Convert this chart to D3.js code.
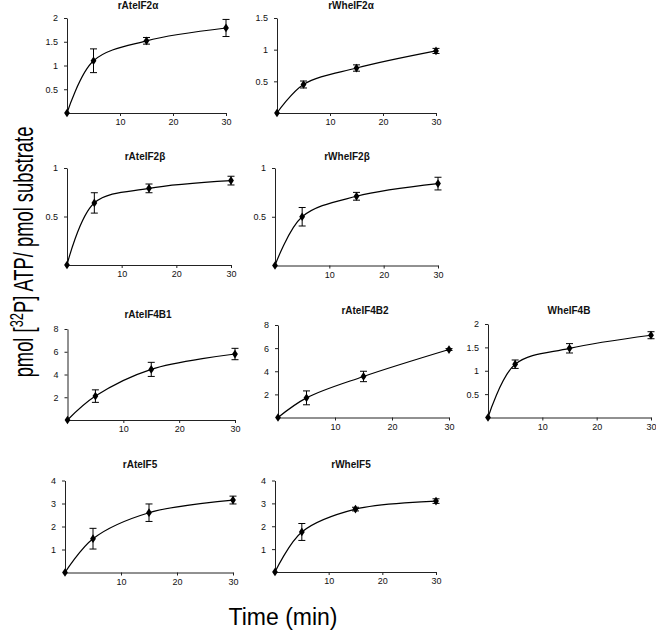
<!DOCTYPE html>
<html>
<head>
<meta charset="utf-8">
<script src="https://cdn.jsdelivr.net/npm/d3@7"></script>
<style>
  html, body { margin: 0; padding: 0; background: #fff; }
  svg { display: block; font-family: Arial, "Liberation Sans", sans-serif; }
</style>
</head>
<body>
<svg id="chart" width="656" height="635"></svg>
<script>
// ---- data ----
const times = [0, 5, 15, 30];
const titles = ["rAteIF2α", "rWheIF2α", "rAteIF2β", "rWheIF2β", "rAteIF4B1", "rAteIF4B2", "WheIF4B", "rAteIF5", "rWheIF5"];
const yMax = [2, 1.5, 1, 1, 8, 8, 2, 4, 4];
const yTicks = [
  [0.5, 1, 1.5, 2],
  [0.5, 1, 1.5],
  [0.5, 1],
  [0.5, 1],
  [2, 4, 6, 8],
  [2, 4, 6, 8],
  [0.5, 1, 1.5, 2],
  [1, 2, 3, 4],
  [1, 2, 3, 4]
];
const xTicks = [10, 20, 30];
const means = [
  [0, 1.10, 1.52, 1.79],
  [0, 0.45, 0.71, 0.98],
  [0, 0.64, 0.79, 0.87],
  [0, 0.50, 0.71, 0.84],
  [0, 2.10, 4.45, 5.80],
  [0, 1.70, 3.55, 5.88],
  [0, 1.14, 1.48, 1.76],
  [0, 1.47, 2.60, 3.15],
  [0, 1.75, 2.75, 3.10]
];
const errs = [
  [0, 0.25, 0.07, 0.18],
  [0, 0.055, 0.05, 0.04],
  [0, 0.105, 0.045, 0.045],
  [0, 0.095, 0.04, 0.065],
  [0, 0.55, 0.62, 0.50],
  [0, 0.60, 0.45, 0.08],
  [0, 0.09, 0.10, 0.075],
  [0, 0.45, 0.38, 0.17],
  [0, 0.37, 0.08, 0.10]
];
const yLabelPre = "pmol [";
const yLabelSup = "32";
const yLabelPost = "P] ATP/ pmol  substrate";
const xLabel = "Time (min)";

// ---- layout (panel geometry) ----
const layout = [
  {x0: 67,   x1: 226, y0: 113,   yTop: 18,    tx: 138, ty: 9},
  {x0: 277,  x1: 436, y0: 113,   yTop: 18,    tx: 351, ty: 9},
  {x0: 67,   x1: 231, y0: 265,   yTop: 168,   tx: 145, ty: 160},
  {x0: 275,  x1: 438, y0: 265.5, yTop: 168,   tx: 347, ty: 160},
  {x0: 67.5, x1: 235, y0: 420,   yTop: 329,   tx: 148, ty: 318},
  {x0: 278,  x1: 449, y0: 417.5, yTop: 325,   tx: 365, ty: 314},
  {x0: 488,  x1: 651, y0: 417.5, yTop: 324,   tx: 569, ty: 314},
  {x0: 65,   x1: 233, y0: 572.5, yTop: 480.5, tx: 140, ty: 468},
  {x0: 275,  x1: 436, y0: 572,   yTop: 480.5, tx: 351, ty: 468}
];

const svg = d3.select("#chart");

titles.forEach((title, i) => {
  const L = layout[i];
  const x = d3.scaleLinear().domain([0, 30]).range([L.x0, L.x1]);
  const y = d3.scaleLinear().domain([0, yMax[i]]).range([L.y0, L.yTop]);
  const g = svg.append("g");

  // axes
  const xAxis = d3.axisBottom(x).tickValues(xTicks).tickSize(3).tickSizeOuter(0).tickPadding(3)
    .tickFormat(d3.format("d"));
  const yAxis = d3.axisLeft(y).tickValues(yTicks[i]).tickSize(3).tickSizeOuter(0).tickPadding(6)
    .tickFormat(d => String(d));
  const gx = g.append("g").attr("transform", `translate(0,${L.y0})`).call(xAxis);
  const gy = g.append("g").attr("transform", `translate(${L.x0},0)`).call(yAxis);
  [gx, gy].forEach(a => {
    a.select(".domain").attr("stroke", "#222").attr("stroke-width", 1);
    a.selectAll(".tick line").attr("stroke", "#222");
    a.selectAll(".tick text").attr("font-size", 9).attr("fill", "#111")
      .attr("font-family", "Arial, 'Liberation Sans', sans-serif");
  });

  // title
  g.append("text").attr("x", L.tx).attr("y", L.ty).attr("text-anchor", "middle")
    .attr("font-size", 10).attr("font-weight", "bold").attr("fill", "#111")
    .text(title);

  const pts = times.map((t, k) => ({t, m: means[i][k], e: errs[i][k]}));

  // smooth line
  const line = d3.line().x(d => x(d.t)).y(d => y(d.m)).curve(d3.curveCatmullRom.alpha(0.5));
  g.append("path").datum(pts).attr("d", line).attr("fill", "none")
    .attr("stroke", "#000").attr("stroke-width", 1.2);

  // error bars
  const eb = g.selectAll(".eb").data(pts.filter(d => d.e > 0)).enter().append("g");
  eb.append("line").attr("x1", d => x(d.t)).attr("x2", d => x(d.t))
    .attr("y1", d => y(d.m - d.e)).attr("y2", d => y(d.m + d.e))
    .attr("stroke", "#000").attr("stroke-width", 1);
  eb.append("line").attr("x1", d => x(d.t) - 3.5).attr("x2", d => x(d.t) + 3.5)
    .attr("y1", d => y(d.m + d.e)).attr("y2", d => y(d.m + d.e))
    .attr("stroke", "#000").attr("stroke-width", 1);
  eb.append("line").attr("x1", d => x(d.t) - 3.5).attr("x2", d => x(d.t) + 3.5)
    .attr("y1", d => y(d.m - d.e)).attr("y2", d => y(d.m - d.e))
    .attr("stroke", "#000").attr("stroke-width", 1);

  // diamond markers
  const sym = d3.symbol().type(d3.symbolDiamond).size(22);
  g.selectAll(".mk").data(pts).enter().append("path")
    .attr("transform", d => `translate(${x(d.t)},${y(d.m)}) scale(1.15,1)`)
    .attr("d", sym).attr("fill", "#000");
});

// y axis label (rotated, compressed along text direction)
const yl = svg.append("text")
  .attr("transform", "translate(32.5,252) rotate(-90) scale(0.68,1)")
  .attr("text-anchor", "middle").attr("font-size", 27).attr("fill", "#000");
yl.append("tspan").text(yLabelPre);
yl.append("tspan").attr("font-size", 19).attr("dy", "-10").text(yLabelSup);
yl.append("tspan").attr("dy", "10").text(yLabelPost);

// x axis label
svg.append("text").attr("x", 283).attr("y", 625).attr("text-anchor", "middle")
  .attr("font-size", 23).attr("fill", "#000").text(xLabel);
</script>
</body>
</html>
